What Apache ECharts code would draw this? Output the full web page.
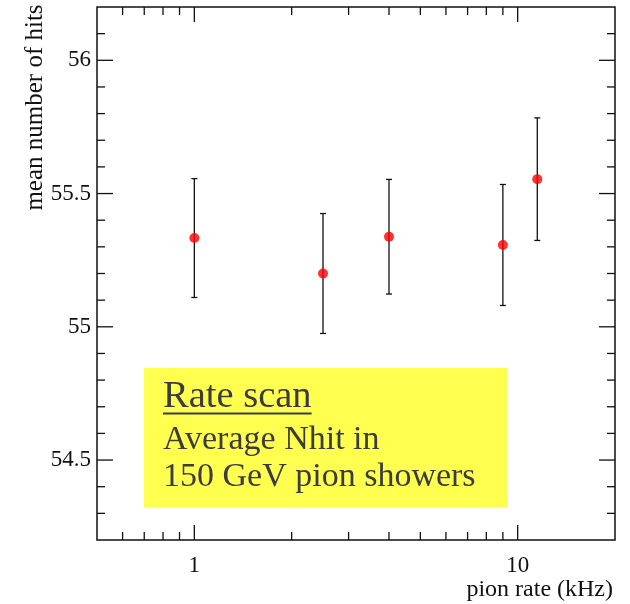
<!DOCTYPE html>
<html>
<head>
<meta charset="utf-8">
<script src="https://cdn.jsdelivr.net/npm/echarts@6/dist/echarts.min.js"></script>
<style>
  html, body { margin: 0; padding: 0; background: #ffffff; }
  #chart { width: 630px; height: 604px; }
</style>
</head>
<body>
<div id="chart"></div>
<script>
// Pion rate scan: mean number of hits vs. beam rate
const rates = [1, 2.5, 4, 9, 11.5];               // pion rate (kHz)
const meanHits = [55.333, 55.200, 55.338, 55.307, 55.554];
const hitErrors = [0.223, 0.225, 0.215, 0.227, 0.230];

// Axis ranges and tick marks
const xRange = [0.5, 20];
const yRange = [54.2, 56.2];
const xTickLabels = [1, 10];
const xMajorTicks = [1, 10];
const xMinorTicks = [0.6, 0.7, 0.8, 0.9, 2, 3, 4, 5, 6, 7, 8, 9];
const yTickLabels = [54.5, 55, 55.5, 56];
const yMajorTicks = [54.5, 55, 55.5, 56];
const yMinorTicks = [54.3, 54.4, 54.6, 54.7, 54.8, 54.9, 55.1, 55.2, 55.3, 55.4,
                     55.6, 55.7, 55.8, 55.9, 56.1];

// Text
const yTitle = 'mean number of hits';
const xTitle = 'pion rate (kHz)';
const boxHeading = 'Rate scan';
const boxLines = ['Average Nhit in', '150 GeV pion showers'];

const SERIF = "'Liberation Serif', 'Times New Roman', 'DejaVu Serif', serif";

const chart = echarts.init(document.getElementById('chart'), null, { renderer: 'canvas' });

// Frame ticks are drawn inward on both opposite sides of the plot.
function xTickRenderer(len) {
  return function (params, api) {
    const v = api.value(0);
    const bottom = api.coord([v, yRange[0]]);
    const top = api.coord([v, yRange[1]]);
    const style = { stroke: '#111', lineWidth: 1.3 };
    return {
      type: 'group',
      children: [
        { type: 'line', shape: { x1: bottom[0], y1: bottom[1], x2: bottom[0], y2: bottom[1] - len }, style },
        { type: 'line', shape: { x1: top[0], y1: top[1], x2: top[0], y2: top[1] + len }, style }
      ]
    };
  };
}
function yTickRenderer(len) {
  return function (params, api) {
    const v = api.value(1);
    const left = api.coord([xRange[0], v]);
    const right = api.coord([xRange[1], v]);
    const style = { stroke: '#111', lineWidth: 1.3 };
    return {
      type: 'group',
      children: [
        { type: 'line', shape: { x1: left[0], y1: left[1], x2: left[0] + len, y2: left[1] }, style },
        { type: 'line', shape: { x1: right[0], y1: right[1], x2: right[0] - len, y2: right[1] }, style }
      ]
    };
  };
}

function errorBarRenderer(params, api) {
  const x = api.value(0), y = api.value(1), e = api.value(2);
  const hi = api.coord([x, y + e]);
  const lo = api.coord([x, y - e]);
  const cap = 3;
  const style = { stroke: '#111', lineWidth: 1.3 };
  return {
    type: 'group',
    children: [
      { type: 'line', shape: { x1: hi[0], y1: hi[1], x2: lo[0], y2: lo[1] }, style },
      { type: 'line', shape: { x1: hi[0] - cap, y1: hi[1], x2: hi[0] + cap, y2: hi[1] }, style },
      { type: 'line', shape: { x1: lo[0] - cap, y1: lo[1], x2: lo[0] + cap, y2: lo[1] }, style }
    ]
  };
}

// Width of the heading, for its underline
function textWidth(text, font) {
  const ctx = document.createElement('canvas').getContext('2d');
  ctx.font = font;
  return ctx.measureText(text).width;
}
const headingSize = 38.5;
const lineSize = 34;
const headingWidth = textWidth(boxHeading, headingSize + 'px ' + SERIF);

const textLeft = 163;
const textColor = '#3c3c3c';

const option = {
  backgroundColor: '#ffffff',
  animation: false,
  grid: {
    left: 97, top: 7, right: 15, bottom: 64,
    show: true, borderColor: '#111', borderWidth: 1.5, backgroundColor: 'transparent'
  },
  xAxis: {
    type: 'log',
    logBase: 10,
    min: xRange[0],
    max: xRange[1],
    axisLine: { show: false },
    axisTick: { show: false },
    splitLine: { show: false },
    axisLabel: {
      margin: 14,
      color: '#111',
      fontFamily: SERIF,
      fontSize: 23,
      formatter: function (v) {
        for (const t of xTickLabels) {
          if (Math.abs(v - t) < 1e-6 * t) return String(t);
        }
        return '';
      }
    }
  },
  yAxis: {
    type: 'value',
    min: yRange[0],
    max: yRange[1],
    axisLine: { show: false },
    axisTick: { show: false },
    splitLine: { show: false },
    axisLabel: {
      customValues: yTickLabels,
      margin: 6,
      color: '#111',
      fontFamily: SERIF,
      fontSize: 23
    }
  },
  series: [
    {
      type: 'custom', name: 'x major ticks', clip: false, silent: true,
      renderItem: xTickRenderer(15),
      data: xMajorTicks.map(v => [v, yRange[0]])
    },
    {
      type: 'custom', name: 'x minor ticks', clip: false, silent: true,
      renderItem: xTickRenderer(8),
      data: xMinorTicks.map(v => [v, yRange[0]])
    },
    {
      type: 'custom', name: 'y major ticks', clip: false, silent: true,
      renderItem: yTickRenderer(16),
      data: yMajorTicks.map(v => [xRange[0], v])
    },
    {
      type: 'custom', name: 'y minor ticks', clip: false, silent: true,
      renderItem: yTickRenderer(8),
      data: yMinorTicks.map(v => [xRange[0], v])
    },
    {
      type: 'custom', name: 'errors', clip: false, silent: true, z: 3,
      renderItem: errorBarRenderer,
      data: rates.map((r, i) => [r, meanHits[i], hitErrors[i]])
    },
    {
      type: 'scatter', name: 'mean hits', z: 4, silent: true,
      symbol: 'circle', symbolSize: 10,
      itemStyle: { color: '#ff0000' },
      data: rates.map((r, i) => [r, meanHits[i]])
    }
  ],
  graphic: [
    {
      type: 'text', x: 35, y: 107.5, rotation: Math.PI / 2,
      style: { text: yTitle, font: '25px ' + SERIF, fill: '#111', align: 'center', verticalAlign: 'middle' }
    },
    {
      type: 'text', x: 613, y: 590,
      style: { text: xTitle, font: '24px ' + SERIF, fill: '#111', align: 'right', verticalAlign: 'middle' }
    },
    {
      type: 'rect', shape: { x: 144, y: 368, width: 363, height: 139 },
      style: { fill: '#ffff4f' }, z: 10
    },
    {
      type: 'text', x: textLeft, y: 396.5, z: 11,
      style: { text: boxHeading, font: headingSize + 'px ' + SERIF, fill: textColor, align: 'left', verticalAlign: 'middle' }
    },
    {
      type: 'rect', shape: { x: textLeft, y: 412.5, width: headingWidth, height: 2 },
      style: { fill: textColor }, z: 11
    },
    {
      type: 'text', x: textLeft, y: 440, z: 11,
      style: { text: boxLines[0], font: lineSize + 'px ' + SERIF, fill: textColor, align: 'left', verticalAlign: 'middle' }
    },
    {
      type: 'text', x: textLeft, y: 477, z: 11,
      style: { text: boxLines[1], font: lineSize + 'px ' + SERIF, fill: textColor, align: 'left', verticalAlign: 'middle' }
    }
  ]
};

chart.setOption(option);
</script>
</body>
</html>
